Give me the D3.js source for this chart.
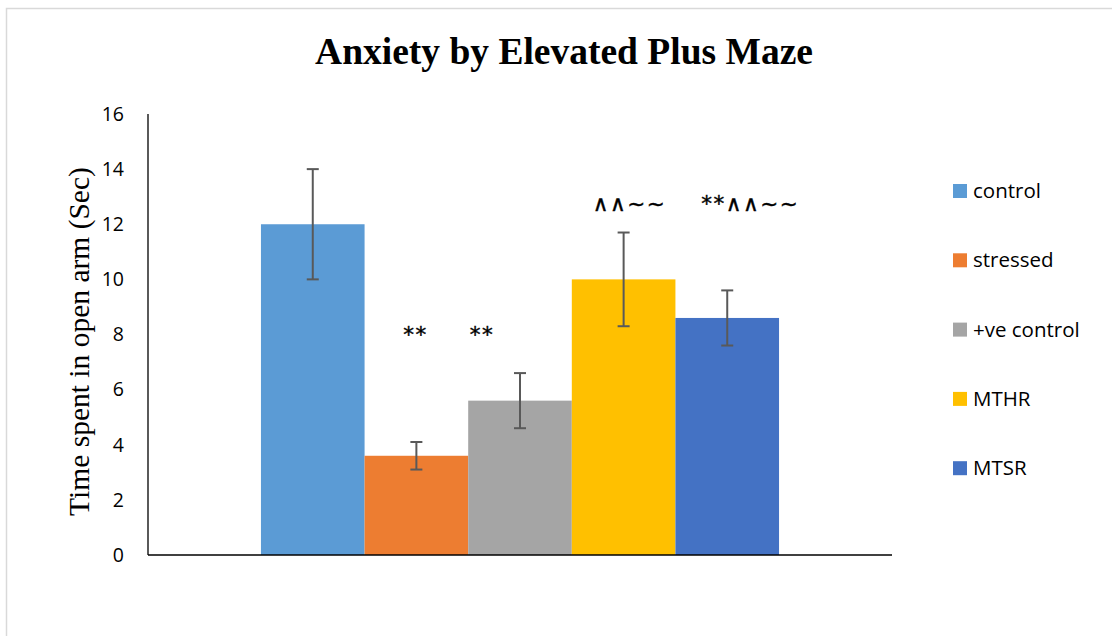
<!DOCTYPE html>
<html>
<head>
<meta charset="utf-8">
<script src="https://cdn.jsdelivr.net/npm/d3@7"></script>
<style>
  html, body { margin: 0; padding: 0; background: #fff; }
  svg { display: block; }
</style>
</head>
<body>
<svg id="chart" width="1112" height="636"></svg>
<script>
// Elevated plus maze: time spent in open arm per group
const categories = ["Time in open arm"];
const groups = ["control", "stressed", "+ve control", "MTHR", "MTSR"];
const means = [12, 3.6, 5.6, 10, 8.6];
const errors = [2, 0.5, 1, 1.7, 1];
const significance = ["", "**", "**", "∧∧~~", "**∧∧~~"];
const yTicks = [0, 2, 4, 6, 8, 10, 12, 14, 16];
const colors = ["#5B9BD5", "#ED7D31", "#A5A5A5", "#FFC000", "#4472C4"];

// where each significance marker sits: height on the value axis, and sideways nudge in px
const markHeights = [0, 7.73, 7.73, 12.48, 12.48];
const markNudge = [0, -1, -38, 6, 23];

const svg = d3.select("#chart");

// outer chart frame
svg.append("rect")
  .attr("x", 6.5).attr("y", 8.5)
  .attr("width", 1200).attr("height", 700)
  .attr("fill", "none").attr("stroke", "#d9d9d9").attr("stroke-width", 1.5);

const plot = { left: 148, right: 892, top: 114, bottom: 555 };

const y = d3.scaleLinear().domain([0, 16]).range([plot.bottom, plot.top]);
const x0 = d3.scaleBand().domain(categories)
  .range([plot.left, plot.right]).paddingInner(0.179).paddingOuter(0.179);
const x1 = d3.scaleBand().domain(groups).range([0, x0.bandwidth()]).padding(0);

// title
svg.append("text")
  .attr("x", 564).attr("y", 64)
  .attr("text-anchor", "middle")
  .attr("font-family", "'Liberation Serif', 'Times New Roman', serif")
  .attr("font-weight", "bold")
  .attr("font-size", 37.5)
  .attr("fill", "#000")
  .text("Anxiety by Elevated Plus Maze");

// y axis title
svg.append("text")
  .attr("transform", `translate(89, ${(plot.top + plot.bottom) / 2 + 7}) rotate(-90)`)
  .attr("text-anchor", "middle")
  .attr("font-family", "'Liberation Serif', 'Times New Roman', serif")
  .attr("font-size", 29.5)
  .attr("fill", "#000")
  .text("Time spent in open arm (Sec)");

// y axis: labels only, plus a plain spine
const yAxis = svg.append("g")
  .attr("transform", `translate(${plot.left},0)`)
  .call(d3.axisLeft(y).tickValues(yTicks).tickSize(0).tickPadding(24));
yAxis.select(".domain").remove();
yAxis.selectAll("text")
  .attr("font-family", "'Open Sans', 'Noto Sans', sans-serif")
  .attr("font-size", 19.5)
  .attr("fill", "#000");

svg.append("line")
  .attr("x1", plot.left).attr("x2", plot.left)
  .attr("y1", plot.top).attr("y2", plot.bottom)
  .attr("stroke", "#000").attr("stroke-width", 1.3);

// bars
const groupG = svg.append("g")
  .attr("transform", `translate(${x0(categories[0])},0)`);

const data = groups.map((g, i) => ({
  group: g, mean: means[i], err: errors[i], sig: significance[i],
  sigAt: markHeights[i], nudge: markNudge[i], color: colors[i]
}));

groupG.selectAll("rect.bar")
  .data(data)
  .join("rect")
  .attr("class", "bar")
  .attr("x", d => x1(d.group))
  .attr("width", x1.bandwidth())
  .attr("y", d => y(d.mean))
  .attr("height", d => y(0) - y(d.mean))
  .attr("fill", d => d.color);

// x axis spine
svg.append("line")
  .attr("x1", plot.left).attr("x2", plot.right)
  .attr("y1", plot.bottom).attr("y2", plot.bottom)
  .attr("stroke", "#000").attr("stroke-width", 1.3);

// error bars
const eb = groupG.selectAll("g.err")
  .data(data)
  .join("g")
  .attr("class", "err")
  .attr("transform", d => `translate(${x1(d.group) + x1.bandwidth() / 2},0)`);
eb.append("line")
  .attr("x1", 0).attr("x2", 0)
  .attr("y1", d => y(d.mean + d.err)).attr("y2", d => y(d.mean - d.err))
  .attr("stroke", "#595959").attr("stroke-width", 2);
eb.append("line")
  .attr("x1", -6).attr("x2", 6)
  .attr("y1", d => y(d.mean + d.err)).attr("y2", d => y(d.mean + d.err))
  .attr("stroke", "#595959").attr("stroke-width", 2);
eb.append("line")
  .attr("x1", -6).attr("x2", 6)
  .attr("y1", d => y(d.mean - d.err)).attr("y2", d => y(d.mean - d.err))
  .attr("stroke", "#595959").attr("stroke-width", 2);

// significance markers
groupG.selectAll("text.sig")
  .data(data.filter(d => d.sig))
  .join("text")
  .attr("class", "sig")
  .attr("x", d => x1(d.group) + x1.bandwidth() / 2 + d.nudge)
  .attr("y", d => y(d.sigAt))
  .attr("text-anchor", "middle")
  .attr("font-family", "'DejaVu Sans', sans-serif")
  .attr("font-size", 21.5)
  .attr("letter-spacing", 1.5)
  .attr("fill", "#000")
  .attr("stroke", "#000")
  .attr("stroke-width", 0.4)
  .text(d => d.sig);

// legend
const legend = svg.append("g").attr("transform", "translate(953,191)");
const li = legend.selectAll("g")
  .data(data)
  .join("g")
  .attr("transform", (d, i) => `translate(0, ${i * 69.3})`);
li.append("rect")
  .attr("x", 0).attr("y", -7)
  .attr("width", 14).attr("height", 14)
  .attr("fill", d => d.color);
li.append("text")
  .attr("x", 20).attr("y", 0)
  .attr("dy", "0.35em")
  .attr("font-family", "'Open Sans', 'Noto Sans', sans-serif")
  .attr("font-size", 20.5)
  .attr("fill", "#000")
  .text(d => d.group);
</script>
</body>
</html>
